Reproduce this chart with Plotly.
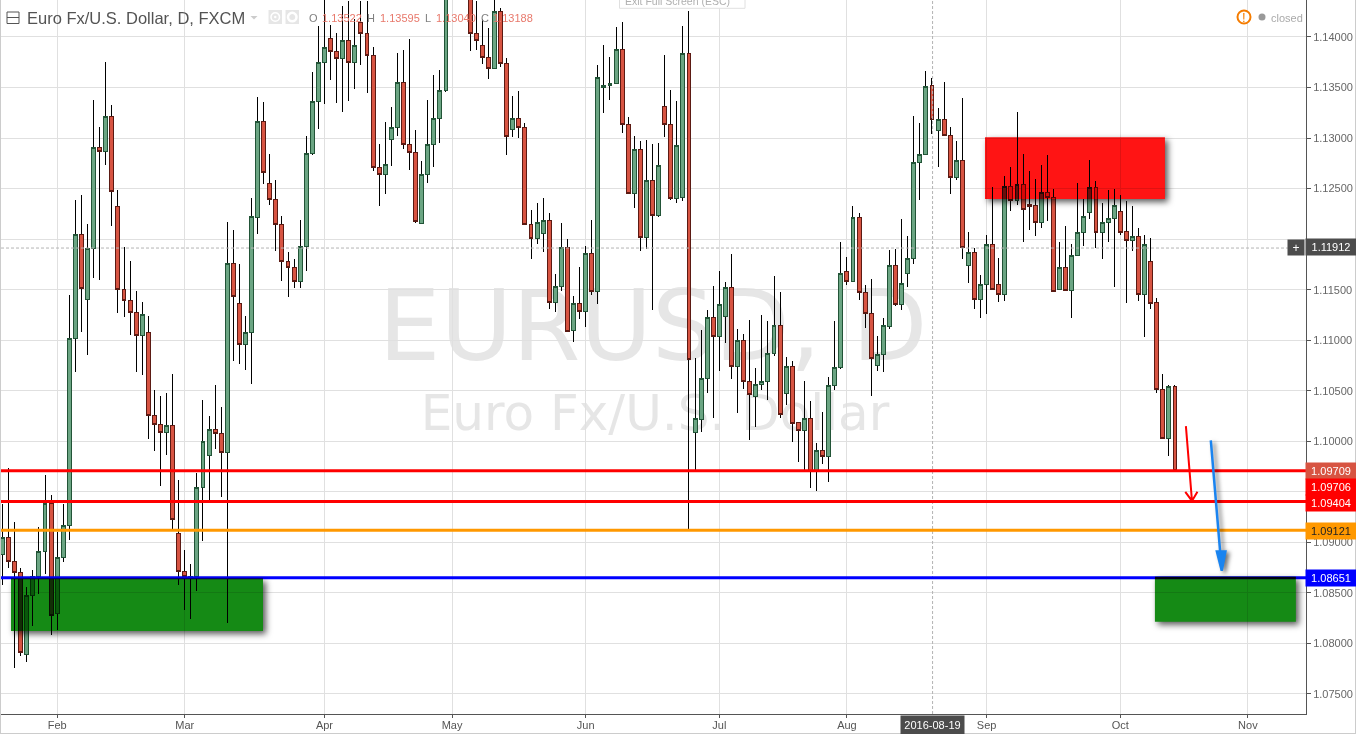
import plotly.graph_objects as go

# ---- daily candles (Jan 2016 - Oct 2016), one entry per session; None = above the visible scale
opens = [1.0888,1.0905,1.0881,1.0870,1.0789,1.0847,1.0866,1.0891,1.0938,1.0830,
 1.0885,1.0917,1.1102,1.1205,1.1140,1.1191,1.1291,1.1287,1.1321,1.1232,
 1.1150,1.1139,1.1127,1.1105,1.1108,1.1026,1.1017,1.1009,1.1016,1.0909,
 1.0871,1.0865,1.0866,1.0954,1.0986,1.1012,1.1008,1.0989,1.1176,1.1136,
 1.1096,1.1108,1.1221,1.1316,1.1255,1.1239,1.1214,1.1178,1.1172,1.1158,
 1.1193,1.1285,1.1336,1.1375,1.1399,1.1386,1.1379,1.1397,1.1375,1.1414,
 1.1403,1.1382,1.1271,1.1264,1.1299,1.1310,1.1355,1.1294,1.1286,1.1215,
 1.1264,1.1294,1.1319,1.1347,None,None,None,1.1444,1.1403,1.1392,
 1.1380,1.1369,1.1425,1.1374,1.1308,1.1319,1.1310,1.1214,1.1201,1.1206,
 1.1218,1.1137,1.1153,1.1192,1.1110,1.1136,1.1128,1.1186,1.1148,1.1350,
 1.1352,1.1354,1.1388,1.1313,1.1245,1.1289,1.1202,1.1258,1.1223,1.1331,
 1.1313,1.1240,1.1241,1.1384,1.1009,1.1022,1.1062,1.1122,1.1104,1.1123,
 1.1152,1.1074,1.1100,1.1059,1.1044,1.1056,1.1059,1.1087,1.1115,1.1047,
 1.1074,1.1019,1.1011,1.1023,1.0970,1.0991,1.0985,1.1055,1.1073,1.1168,
 1.1158,1.1221,1.1147,1.1126,1.1075,1.1086,1.1114,1.1174,1.1135,1.1166,
 1.1181,1.1276,1.1284,1.13522,1.1307,1.1318,1.1303,1.1261,1.1278,1.1174,
 1.1187,1.1140,1.1155,1.1195,1.1155,1.1145,1.1252,1.1238,1.1254,1.1234,
 1.1233,1.1216,1.1246,1.1241,1.1150,1.1172,1.1149,1.1184,1.1207,1.1226,
 1.1251,1.1207,1.1216,1.1220,1.1227,1.1208,1.1199,1.1203,1.1145,1.1178,
 1.1137,1.1051,1.1003,1.1054]
closes = [1.0905,1.0881,1.0870,1.0791,1.0847,1.0866,1.0891,1.0938,1.0828,1.0885,
 1.0917,1.1102,1.1205,1.1151,1.1191,1.1291,1.1287,1.1321,1.1247,1.1150,
 1.1139,1.1127,1.1105,1.1125,1.1026,1.1017,1.1009,1.1016,1.0923,1.0871,
 1.0866,1.0866,1.0954,1.1000,1.1012,1.1008,1.0989,1.1176,1.1143,1.1096,
 1.1108,1.1222,1.1316,1.1266,1.1239,1.1214,1.1178,1.1172,1.1158,1.1193,
 1.1285,1.1336,1.1375,1.1390,1.1386,1.1379,1.1397,1.1375,1.1392,1.1403,
 1.1382,1.1271,1.1264,1.1274,1.1310,1.1355,1.1294,1.1286,1.1217,1.1264,
 1.1294,1.1319,1.1347,1.1441,None,None,None,1.1403,1.1397,1.1380,
 1.1369,1.1425,1.1374,1.1302,1.1319,1.1310,1.1214,1.1201,1.1216,1.1218,
 1.1137,1.1153,1.1192,1.1109,1.1136,1.1128,1.1186,1.1148,1.1360,1.1352,
 1.1354,1.1388,1.1313,1.1245,1.1289,1.1202,1.1258,1.1223,1.1273,1.1313,
 1.1240,1.1293,1.1384,1.1081,1.1023,1.1062,1.1122,1.1104,1.1135,1.1152,
 1.1074,1.1100,1.1059,1.1046,1.1056,1.1059,1.1087,1.1115,1.1027,1.1074,
 1.1018,1.1011,1.1023,1.0970,1.0991,1.0985,1.1055,1.1073,1.1166,1.1158,
 1.1221,1.1147,1.1126,1.1082,1.1086,1.1115,1.1174,1.1135,1.1156,1.1181,
 1.1276,1.1284,1.1351,1.13188,1.1318,1.1303,1.1261,1.1278,1.1192,1.1187,
 1.1140,1.1155,1.1195,1.1150,1.1145,1.1252,1.1238,1.1254,1.1229,1.1232,
 1.1216,1.1246,1.1241,1.1148,1.1172,1.1149,1.1184,1.1207,1.1222,1.1251,
 1.1207,1.1216,1.1220,1.1233,1.1207,1.1199,1.1203,1.1145,1.1195,1.1136,
 1.1051,1.1003,1.1054,1.0971]
highs = [1.0938,1.0974,1.0920,1.0875,1.0856,1.0873,1.0915,1.0967,1.0947,1.0910,
 1.0938,1.1145,1.1239,1.1244,1.1215,1.1338,1.1311,1.1375,1.1333,1.1249,
 1.1192,1.1178,1.1149,1.1138,1.1124,1.1051,1.1045,1.1048,1.1067,1.0962,
 1.0892,1.0879,1.0969,1.1041,1.1025,1.1056,1.1034,1.1217,1.1209,1.1175,
 1.1124,1.1241,1.1341,1.1336,1.1284,1.1259,1.1223,1.1187,1.1180,1.1219,
 1.1302,1.1365,1.1411,1.1441,1.1412,1.1404,1.1431,1.1436,1.1418,1.1436,
 1.1436,1.1390,1.1294,1.1316,1.1331,1.1384,1.1387,1.1398,1.1308,1.1277,
 1.1338,1.1362,1.1367,1.1445,None,None,None,1.1450,1.1436,1.1418,
 1.1409,1.1438,1.1429,1.1379,1.1342,1.1347,1.1315,1.1229,1.1236,1.1241,
 1.1226,1.1166,1.1216,1.1200,1.1144,1.1172,1.1193,1.1219,1.1372,1.1392,
 1.1380,1.1410,1.1415,1.1321,1.1302,1.1297,1.1298,1.1294,1.1295,1.1382,
 1.1348,1.1337,1.1411,1.1426,1.1082,1.1110,1.1130,1.1154,1.1168,1.1158,
 1.1185,1.1111,1.1106,1.1120,1.1073,1.1125,1.1119,1.1164,1.1148,1.1083,
 1.1079,1.1019,1.1060,1.1040,1.0998,1.1029,1.1064,1.1119,1.1197,1.1182,
 1.1233,1.1226,1.1155,1.1161,1.1104,1.1122,1.1189,1.1190,1.1220,1.1203,
 1.1322,1.1315,1.1366,1.13595,1.1330,1.1355,1.1311,1.1297,1.1340,1.1207,
 1.1191,1.1165,1.1204,1.1252,1.1181,1.1262,1.1271,1.1326,1.1284,1.1267,
 1.1260,1.1273,1.1283,1.1250,1.1197,1.1213,1.1195,1.1256,1.1240,1.1278,
 1.1258,1.1236,1.1249,1.1250,1.1244,1.1238,1.1233,1.1211,1.1204,1.1201,
 1.1142,1.1067,1.1056,1.1056]
lows = [1.0858,1.0875,1.0776,1.0788,1.0782,1.0817,1.0849,1.0869,1.0808,1.0813,
 1.0881,1.0902,1.1069,1.1108,1.1085,1.1162,1.1160,1.1273,1.1213,1.1127,
 1.1123,1.1105,1.1069,1.1066,1.1002,1.0990,1.0956,1.0986,1.0913,1.0858,
 1.0833,1.0824,1.0852,1.0901,1.0941,1.0992,1.0945,1.0820,1.1079,1.1076,
 1.1071,1.1057,1.1205,1.1255,1.1234,1.1188,1.1159,1.1143,1.1152,1.1152,
 1.1168,1.1283,1.1309,1.1334,1.1357,1.1335,1.1326,1.1337,1.1349,1.1372,
 1.1345,1.1267,1.1233,1.1245,1.1272,1.1302,1.1289,1.1268,1.1216,1.1215,
 1.1256,1.1271,1.1295,1.1346,None,None,None,1.1386,1.1387,1.1373,
 1.1358,1.1368,1.1370,1.1283,1.1301,1.1300,1.1214,1.1180,1.1195,1.1187,
 1.1131,1.1128,1.1149,1.1109,1.1098,1.1121,1.1113,1.1145,1.1136,1.1325,
 1.1338,1.1354,1.1305,1.1245,1.1231,1.1188,1.1190,1.1130,1.1222,1.1301,
 1.1239,1.1236,1.1238,1.0913,1.0970,1.1009,1.1048,1.1023,1.1070,1.1097,
 1.1062,1.1028,1.1052,1.1001,1.1014,1.1051,1.1041,1.1084,1.1023,1.1036,
 1.0999,1.0980,1.0970,1.0954,1.0951,1.0978,1.0960,1.1051,1.1072,1.1155,
 1.1158,1.1140,1.1112,1.1045,1.1070,1.1069,1.1111,1.1134,1.1130,1.1153,
 1.1175,1.1239,1.1284,1.13040,1.1271,1.1303,1.1245,1.1259,1.1180,1.1157,
 1.1131,1.1122,1.1126,1.1150,1.1138,1.1139,1.1228,1.1234,1.1197,1.1209,
 1.1203,1.1211,1.1218,1.1148,1.1150,1.1149,1.1122,1.1184,1.1193,1.1220,
 1.1191,1.1180,1.1197,1.1153,1.1204,1.1137,1.1188,1.1139,1.1103,1.1131,
 1.1048,1.1003,1.0985,1.0970]
assert len(opens) == len(closes) == len(highs) == len(lows) == 194
sessions = list(range(len(opens)))

month_sessions = [9, 30, 53, 74, 96, 118, 139, 162, 184, 205]
month_labels = ["Feb", "Mar", "Apr", "May", "Jun", "Jul", "Aug", "Sep", "Oct", "Nov"]
price_ticks = [1.075, 1.08, 1.085, 1.09, 1.095, 1.10, 1.105, 1.11, 1.115, 1.12,
               1.125, 1.13, 1.135, 1.14]
# 1.09500 and 1.12000 sit behind the price tags in the reference
price_labels = ["1.07500", "1.08000", "1.08500", "1.09000", "", "1.10000", "1.10500", "1.11000", "1.11500", "",
                "1.12500", "1.13000", "1.13500", "1.14000"]

level_red_1, level_red_2, level_orange, level_blue = 1.09709, 1.09404, 1.09121, 1.08651
cross_session, cross_price = 153.1, 1.11912

supply_zone = (161.73, 191.35, 1.13008, 1.12397)
demand_zone_left = (1.4, 42.88, 1.08642, 1.08123)
demand_zone_right = (189.7, 212.9, 1.08661, 1.08215)

red_arrow_s = [194.8, 195.8, 194.7, 196.7]
red_arrow_p = [1.1015, 1.0941, 1.0950, 1.0950]
blue_arrow_s = [198.9, 200.7, 199.9, 201.3]
blue_arrow_p = [1.1001, 1.0872, 1.0891, 1.0891]

UP, UP_EDGE, DOWN, DOWN_EDGE = "#6ba583", "#225437", "#d75442", "#5b1a13"
FONT = "Liberation Sans"
W, H, ML, MR, MB = 1356, 734, 1, 50, 20
PW, PH = W - ML - MR, H - MB


def px(x):
    return (x - ML) / PW


def py(y):
    return 1 - y / PH


fig = go.Figure()
# wicks: open and close collapsed to the middle of the body, which then hides them
mids = [None if o is None else (o + c) / 2 for o, c in zip(opens, closes)]
fig.add_trace(go.Candlestick(
    x=sessions, open=mids, high=highs, low=lows, close=mids,
    increasing=dict(line=dict(color="#000000", width=1)),
    decreasing=dict(line=dict(color="#000000", width=1)),
    whiskerwidth=0, hoverinfo="skip", showlegend=False))
# bodies
body_hi = [None if o is None else max(o, c) for o, c in zip(opens, closes)]
body_lo = [None if o is None else min(o, c) for o, c in zip(opens, closes)]
fig.add_trace(go.Candlestick(
    x=sessions, open=opens, high=body_hi, low=body_lo, close=closes,
    increasing=dict(line=dict(color=UP_EDGE, width=1), fillcolor=UP),
    decreasing=dict(line=dict(color=DOWN_EDGE, width=1), fillcolor=DOWN),
    whiskerwidth=0, hoverinfo="skip", showlegend=False))

shapes = []


def add(**k):
    shapes.append(k)
    return len(shapes) - 1


# watermark, under everything
add(type="rect", xref="paper", yref="paper", layer="below", x0=px(353), x1=px(953), y0=py(366), y1=py(272),
    line=dict(width=0), fillcolor="rgba(0,0,0,0)",
    label=dict(text="EURUSD, D", textposition="middle center",
               font=dict(family="DejaVu Sans", size=98, color="#e6e6e6")))
add(type="rect", xref="paper", yref="paper", layer="below", x0=px(355), x1=px(955), y0=py(439), y1=py(379),
    line=dict(width=0), fillcolor="rgba(0,0,0,0)",
    label=dict(text="Euro Fx/U.S. Dollar", textposition="middle center",
               font=dict(family="DejaVu Sans", size=50, color="#e6e6e6")))

# crosshair
add(type="line", xref="x", yref="paper", x0=cross_session, x1=cross_session, y0=0, y1=1,
    line=dict(color="#b4b4b4", width=1, dash="3px,2px"))
add(type="line", xref="paper", yref="y", x0=0, x1=1, y0=cross_price, y1=cross_price,
    line=dict(color="#b4b4b4", width=1, dash="3px,2px"))

# levels
for lvl, col in [(level_red_1, "#ff0000"), (level_red_2, "#ff0000"),
                 (level_orange, "#ff9800"), (level_blue, "#0000ff")]:
    add(type="line", xref="paper", yref="y", x0=0, x1=1, y0=lvl, y1=lvl, line=dict(color=col, width=3))

# zones
blend = []
for z, col in [(supply_zone, "rgb(255,20,20)"), (demand_zone_left, "rgb(21,138,21)"),
               (demand_zone_right, "rgb(21,138,21)")]:
    blend.append(add(type="rect", xref="x", yref="y", x0=z[0], x1=z[1], y0=z[2], y1=z[3],
                     line=dict(width=0), fillcolor=col))

# arrows
s, p = red_arrow_s, red_arrow_p
add(type="path", xref="x", yref="y", line=dict(color="#ff0000", width=2),
    path=f"M{s[0]} {p[0]}L{s[1]} {p[1]}M{s[2]} {p[2]}L{s[1]} {p[1]}L{s[3]} {p[3]}")
s, p = blue_arrow_s, blue_arrow_p
blue = add(type="path", xref="x", yref="y", line=dict(color="#1a84f0", width=2.5), fillcolor="#1a84f0",
           path=f"M{s[0]} {p[0]}L{s[1]} {p[1]}L{s[2]} {p[2]}L{s[3]} {p[3]}L{s[1]} {p[1]}")

# header furniture
pp = dict(xref="paper", yref="paper")
add(type="rect", x0=px(7), x1=px(19), y0=py(23.5), y1=py(12), line=dict(color="#555555", width=1), **pp)
add(type="line", x0=px(7), x1=px(19), y0=py(17.5), y1=py(17.5), line=dict(color="#555555", width=1), **pp)
add(type="path", path=f"M{px(250.5)} {py(16)}L{px(257.5)} {py(16)}L{px(254)} {py(19.5)}Z",
    fillcolor="#cccccc", line=dict(width=0), **pp)
for a, b in [(268.5, 282), (285.5, 299)]:
    add(type="rect", x0=px(a), x1=px(b), y0=py(24), y1=py(10), fillcolor="#e6e6e6", line=dict(width=0), **pp)
add(type="circle", x0=px(271), x1=px(279.5), y0=py(21.3), y1=py(12.8), line=dict(color="#ffffff", width=1.5), **pp)
add(type="circle", x0=px(274), x1=px(276.5), y0=py(18.3), y1=py(15.8), fillcolor="#ffffff", line=dict(width=0), **pp)
add(type="circle", x0=px(288), x1=px(296.5), y0=py(21.3), y1=py(12.8), line=dict(color="#ffffff", width=2.5), **pp)
add(type="rect", x0=px(619.5), x1=px(745), y0=py(8.3), y1=py(-3), fillcolor="#ffffff",
    line=dict(color="#e0e0e0", width=1), **pp)
add(type="circle", x0=px(1237.5), x1=px(1250.5), y0=py(23.5), y1=py(10.5), line=dict(color="#f57c00", width=2),
    fillcolor="#ffffff", **pp)
add(type="circle", x0=px(1258.5), x1=px(1265.5), y0=py(20.5), y1=py(13.5), fillcolor="#999999",
    line=dict(width=0), **pp)
# page frame
add(type="line", x0=px(0.5), x1=px(0.5), y0=py(0), y1=py(734), line=dict(color="#cccccc", width=1), **pp)
add(type="line", x0=px(1355.5), x1=px(1355.5), y0=py(0), y1=py(734), line=dict(color="#cccccc", width=1), **pp)
add(type="line", x0=px(0), x1=px(1356), y0=py(733.5), y1=py(733.5), line=dict(color="#cccccc", width=1), **pp)

ann = []


def text(t, x, y, size=11, color="#808080", anchor="left", **k):
    ann.append(dict(text=t, xref="paper", yref="paper", x=px(x), y=py(y), xanchor=anchor, yanchor="middle",
                    showarrow=False, font=dict(family=FONT, size=size, color=color), borderpad=0, **k))


text("Euro Fx/U.S. Dollar, D, FXCM", 25.5, 18, size=16.5, color="#535353")
VAL = "#e8796c"
for lab, lx, val, vx in [("O", 307.5, "1.13522", 320.5), ("H", 365.5, "1.13595", 379),
                         ("L", 424, "1.13040", 435), ("C", 480, "1.13188", 492)]:
    text(lab, lx, 18, color="#808080")
    text(val, vx, 18, color=VAL)
text("Exit Full Screen (ESC)", 677.5, 1, size=10.5, color="#b0b0b0", anchor="center")
text("!", 1244, 17, size=13, color="#f57c00", anchor="center")
text("closed", 1270, 17.5, size=11, color="#aaaaaa")


def tag(t, price, bg, fg="#ffffff", shift=0):
    ann.append(dict(text=t, xref="paper", yref="y", x=1, y=price, xanchor="left", yanchor="middle", xshift=-1,
                    yshift=shift, showarrow=False, width=50, height=16, bgcolor=bg, borderpad=0, align="center",
                    font=dict(family=FONT, size=11, color=fg)))


tag("1.11912", cross_price, "#4c4c4c", shift=1)
tag("1.09709", level_red_1, DOWN)
tag("1.09706", level_red_1, "#ff0000", shift=-16)
tag("1.09404", level_red_2, "#ff0000", shift=-1.5)
tag("1.09121", level_orange, "#ff9800", fg="#222222", shift=-0.5)
tag("1.08651", level_blue, "#0000ff", shift=-0.5)
ann.append(dict(text="+", xref="paper", yref="y", x=1, y=cross_price, xanchor="right", yanchor="middle", xshift=-1,
                yshift=1, showarrow=False, width=16, height=15, bgcolor="#4c4c4c", borderpad=0,
                font=dict(family=FONT, size=12, color="#ffffff")))
ann.append(dict(text="2016-08-19", xref="x", yref="paper", x=cross_session, y=0, xanchor="center", yanchor="top",
                yshift=-1, showarrow=False, width=63, height=18, bgcolor="#4c4c4c", borderpad=0,
                font=dict(family=FONT, size=11, color="#ffffff")))

GRID = "#e0e0e0"
fig.update_layout(
    width=W, height=H, autosize=False, margin=dict(l=ML, r=MR, t=0, b=MB, pad=0),
    paper_bgcolor="#ffffff", plot_bgcolor="#ffffff", showlegend=False,
    boxmode="overlay", boxgap=0.08, shapes=shapes, annotations=ann,
    font=dict(family=FONT, size=11, color="#666666"),
    xaxis=dict(range=[-0.247, 214.57], rangeslider=dict(visible=False), tickmode="array",
               tickvals=month_sessions, ticktext=month_labels, showgrid=True, gridcolor=GRID, gridwidth=1,
               zeroline=False, ticks="outside", ticklen=3, ticklabelstandoff=-2, tickcolor="#555555", showline=True,
               linecolor="#555555", linewidth=1, tickfont=dict(family=FONT, size=11, color="#555555")),
    yaxis=dict(range=[1.07302, 1.14366], side="right", tickmode="array", tickvals=price_ticks,
               ticktext=price_labels, showgrid=True, gridcolor=GRID, gridwidth=1, zeroline=False, ticks="outside",
               ticklen=4, tickcolor="#555555", showline=True, linecolor="#555555", linewidth=1,
               tickfont=dict(family=FONT, size=11, color="#666666")),
)

js = """
document.body.style.margin='0';document.body.style.overflow='hidden';
document.querySelectorAll('.boxlayer path').forEach(function(e){e.style.shapeRendering='crispEdges';});
function byIdx(i){return document.querySelector('.layer-above .shapelayer path[data-index="'+i+'"]');}
%s.forEach(function(i){var e=byIdx(i);if(e){var g=e.parentNode;g.style.mixBlendMode='multiply';g.style.filter='drop-shadow(3px 3px 3px rgba(0,0,0,.65))';}});
var b=byIdx(%d);if(b){b.parentNode.style.filter='drop-shadow(3px 2px 2px rgba(0,0,0,.55))';}
""" % (str(blend), blue)

fig.write_html("out.html", config=dict(displayModeBar=False, staticPlot=True), post_script=js)
